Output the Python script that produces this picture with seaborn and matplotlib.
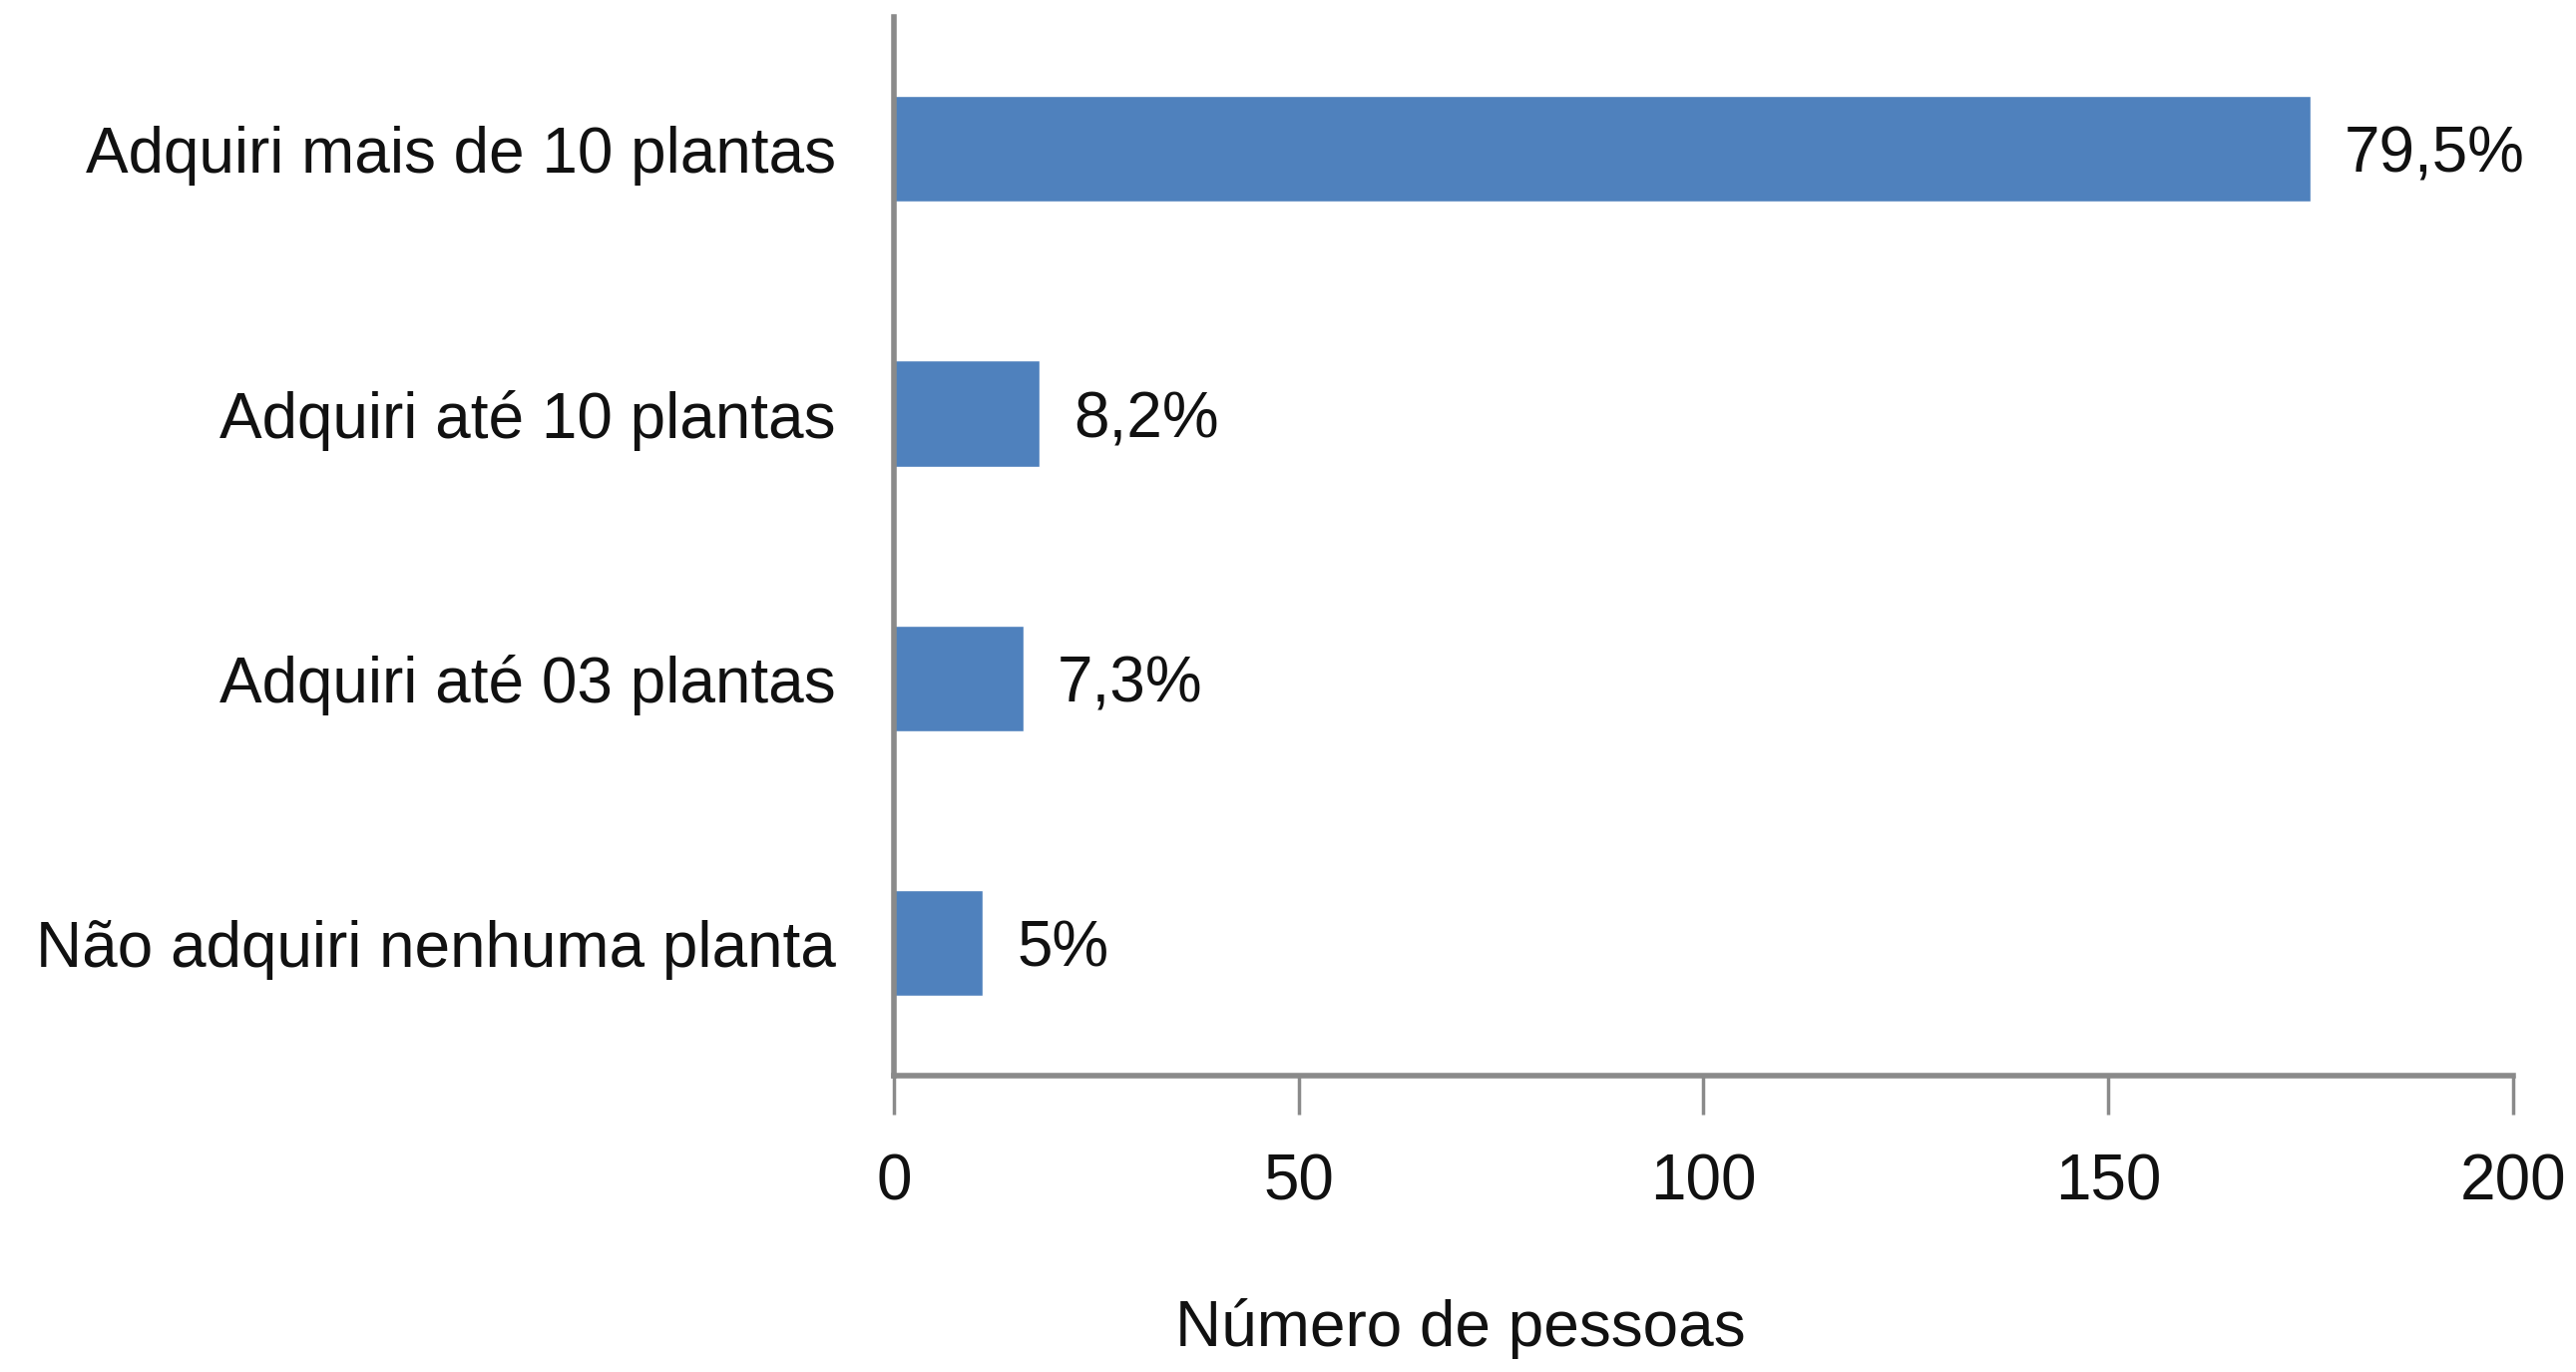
import seaborn as sns
import matplotlib.pyplot as plt
import pandas as pd

categorias = ["Adquiri mais de 10 plantas", "Adquiri até 10 plantas",
              "Adquiri até 03 plantas", "Não adquiri nenhuma planta"]
pessoas = [175, 18, 16, 11]
rotulos = ["79,5%", "8,2%", "7,3%", "5%"]

df = pd.DataFrame({"categoria": categorias, "pessoas": pessoas})

sns.set_style("white")
plt.rcParams['font.family'] = ['Liberation Sans Narrow', 'Liberation Sans', 'DejaVu Sans']

fig = plt.figure(figsize=(25.82, 13.75), dpi=100)
ax = fig.add_axes([0.347, 0.216, 0.6286, 0.772])

sns.barplot(data=df, x="pessoas", y="categoria", color="#4f81bd",
            width=0.4, saturation=1, ax=ax)

# rotulos de porcentagem ao lado das barras
for i, (v, r) in enumerate(zip(pessoas, rotulos)):
    ax.text(v + 4.2, i, r, va="center_baseline", ha="left", fontsize=46, color="#111111")

ax.set_xlim(0, 200)
ax.set_xticks([0, 50, 100, 150, 200])
ax.set_ylim(3.5, -0.5)
ax.set_ylabel("")
ax.set_xlabel("Número de pessoas", fontsize=46, color="#111111")
ax.xaxis.set_label_coords(0.35, -0.21)

for s in ["top", "right"]:
    ax.spines[s].set_visible(False)
for s in ["left", "bottom"]:
    ax.spines[s].set_color("#8a8a8a")
    ax.spines[s].set_linewidth(4)

ax.tick_params(axis="x", direction="out", length=28, width=2.5, color="#8a8a8a",
               labelsize=46, labelcolor="#111111", pad=28, bottom=True)
ax.tick_params(axis="y", length=0, labelsize=46, labelcolor="#111111", pad=42)

fig.savefig("out.png", dpi=100)
